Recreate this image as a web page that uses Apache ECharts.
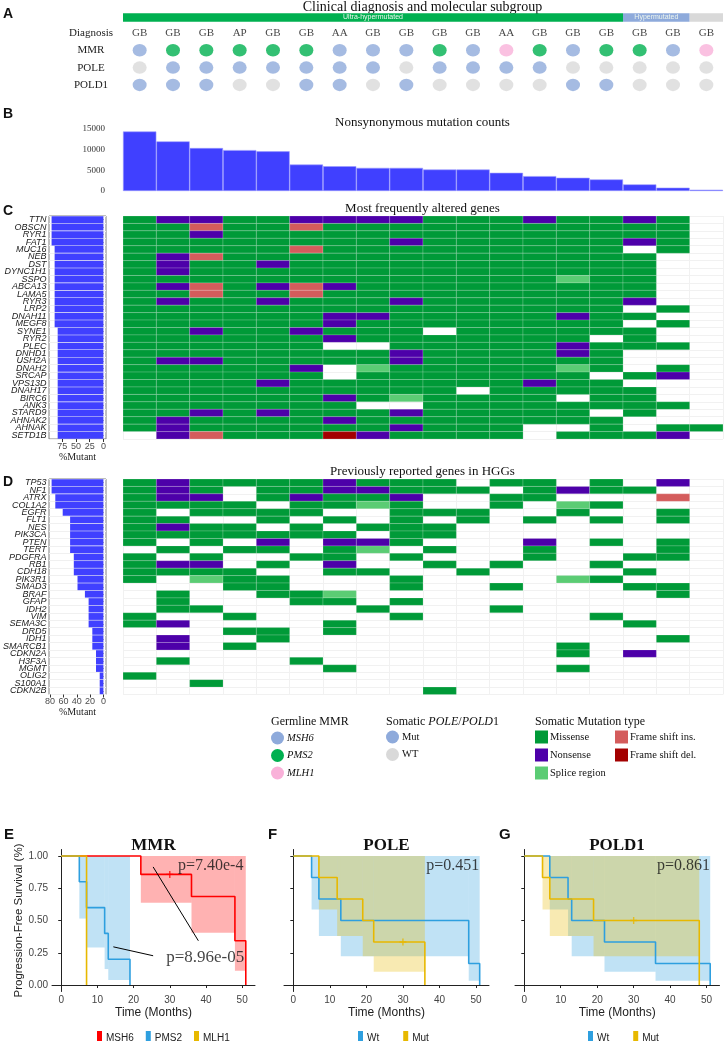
<!DOCTYPE html>
<html>
<head>
<meta charset="utf-8">
<script src="https://cdn.jsdelivr.net/npm/echarts@6/dist/echarts.min.js"></script>
<style>
  html, body { margin: 0; padding: 0; background: #fff; }
  #main { width: 727px; height: 1041px; }
</style>
</head>
<body>
<div id="main"></div>
<script>
// ---- panel A / B data ----
var samples = ['P1','P2','P3','P4','P5','P6','P7','P8','P9','P10','P11','P12','P13','P14','P15','P16','P17','P18'];
var diagnosis = ['GB','GB','GB','AP','GB','GB','AA','GB','GB','GB','GB','AA','GB','GB','GB','GB','GB','GB'];
var mmrGene = ['MSH6','PMS2','PMS2','PMS2','PMS2','PMS2','MSH6','MSH6','MSH6','PMS2','MSH6','MLH1','PMS2','MSH6','PMS2','PMS2','MSH6','MLH1'];
var poleStatus = ['WT','Mut','Mut','Mut','Mut','Mut','Mut','Mut','WT','Mut','Mut','Mut','Mut','WT','WT','WT','WT','WT'];
var pold1Status = ['Mut','Mut','Mut','WT','WT','Mut','Mut','WT','Mut','WT','WT','WT','WT','Mut','Mut','WT','WT','WT'];
var subgroups = ['Ultra-hypermutated', 'Hypermutated', ''];
var subgroupSpan = [15, 2, 1];
var mutationCounts = [14400, 12000, 10400, 9900, 9600, 6400, 6000, 5600, 5600, 5200, 5200, 4400, 3600, 3200, 2800, 1600, 800, 300];

// ---- panel C data (M missense, N nonsense, S splice, I fs ins, D fs del, . none) ----
var genesC = ['TTN','OBSCN','RYR1','FAT1','MUC16','NEB','DST','DYNC1H1','SSPO','ABCA13','LAMA5','RYR3','LRP2','DNAH11','MEGF8',
  'SYNE1','RYR2','PLEC','DNHD1','USH2A','DNAH2','SRCAP','VPS13D','DNAH17','BIRC6','ANK3','STARD9','AHNAK2','AHNAK','SETD1B'];
var mutantCountC = [17,17,17,17,16,16,16,16,16,16,16,16,16,16,16,15,15,15,15,15,15,15,15,15,15,15,15,15,15,15];
var heatC = [
  'MNNMMNNNNMMMNMMNM.',
  'MMIMMIMMMMMMMMMMM.',
  'MMNMMMMMMMMMMMMMM.',
  'MMMMMMMMNMMMMMMNM.',
  'MMMMMIMMMMMMMMM.M.',
  'MNIMMMMMMMMMMMMM..',
  'MNMMNMMMMMMMMMMM..',
  'MNMMMMMMMMMMMMMM..',
  'MMMMMMMMMMMMMSMM..',
  'MNIMNINMMMMMMMMM..',
  'MMIMMIMMMMMMMMMM..',
  'MNMMNMMMNMMMMMMN..',
  'MMMMMMMMMMMMMMM.M.',
  'MMMMMMNNMMMMMNMM..',
  'MMMMMMNMMMMMMMM.M.',
  'MMNMMNMMM.MMMMMM..',
  'MMMMMMNMMMMMMM.M..',
  'MMMMMM..MMMMMNMMM.',
  'MMMMMMMMNMMMMNM...',
  'MNNMMMMMNMMMMMM...',
  'MMMMMN.SMMMMMSM.M.',
  'MMMMMM.MMMMMMM.MN.',
  'MMMMNMMMMMMMNMM...',
  'MMMMMMMMMM.MMMMM..',
  'MMMMMMNMSMMMM.MM..',
  'MMMMMMM..MMMMMMMM.',
  'MMNMNMMMNMMMMM.M..',
  'MNMMMMNMMMMMMMM...',
  'MNMMMMMMNMMM..M.MM',
  '.NIMMMDNMMMM.MMMN.'
];

// ---- panel D data ----
var genesD = ['TP53','NF1','ATRX','COL1A2','EGFR','FLT1','NES','PIK3CA','PTEN','TERT','PDGFRA','RB1','CDH18','PIK3R1','SMAD3',
  'BRAF','GFAP','IDH2','VIM','SEMA3C','DRD5','IDH1','SMARCB1','CDKN2A','H3F3A','MGMT','OLIG2','S100A1','CDKN2B'];
var mutantCountD = [14,14,13,13,11,9,9,9,9,9,8,8,8,7,7,5,4,4,4,4,3,3,3,2,2,2,1,1,1];
var heatD = [
  'MNMMMMNMMM.MM.M.N.',
  'MNM.MMNNMMM.MNMM..',
  'MNN.MNMMN..MM...I.',
  'MMMM.MMSM..M.SM...',
  'M.MMMM..MMM..M..M.',
  'MM..M.M.M.M.M.M.M.',
  'MNMM.M.MMM........',
  'MMMMMMM.MM........',
  'M.M.N.NNM...N.M.M.',
  '.M.MM.MS.M..M...M.',
  'M.M..MM.M...M..MM.',
  'MNN.M.N..M.M..M...',
  'MMMM..MM..M....M..',
  'M.SMM...M....SM...',
  '...MM...M..M...MM.',
  '.M..MMS.........M.',
  '.M...MM.M.........',
  '.MM....M...M......',
  'M..M....M.....M...',
  'MN....M........M..',
  '...MM.M...........',
  '.N..M...........M.',
  '.N.M.........M....',
  '.............M.N..',
  '.M...M............',
  '......M......M....',
  'M.................',
  '..M...............',
  '.........M........'
];
var mutCodes = ['M', 'N', 'S', 'I', 'D'];
var mutTypes = ['Missense', 'Nonsense', 'Splice region', 'Frame shift ins.', 'Frame shift del.'];

// ---- survival data: step points, censor marks, CI bands [t0, t1, lower, upper] ----
var msh6Curve = [[0,1],[22,0.857],[36,0.686],[48,0.343],[51,0]];
var pms2Curve = [[0,1],[5,0.8],[7,0.6],[12,0.4],[13,0.2],[19,0]];
var mlh1Curve = [[0,1],[7,0]];
var msh6Censor = [[30,0.857]];
var msh6CI = [[22,36,0.637,1],[36,48,0.405,1],[48,51,0.111,1]];
var pms2CI = [[5,7,0.515,1],[7,12,0.29,1],[12,13,0.124,1],[13,19,0.04,1]];

var poleWtCurve = [[0,1],[5,0.833],[7,0.667],[13,0.5],[48,0.167],[51,0]];
var poleMutCurve = [[0,1],[7,0.833],[12,0.667],[19,0.5],[22,0.333],[36,0]];
var poleMutCensor = [[30,0.333]];
var poleWtCI = [[5,7,0.585,1],[7,13,0.38,1],[13,48,0.224,1],[48,51,0.033,1]];
var poleMutCI = [[7,12,0.585,1],[12,19,0.38,1],[19,22,0.224,1],[22,36,0.103,1]];

var pold1WtCurve = [[0,1],[7,0.833],[12,0.667],[13,0.5],[22,0.333],[36,0.167],[51,0]];
var pold1MutCurve = [[0,1],[5,0.833],[7,0.667],[19,0.5],[48,0]];
var pold1MutCensor = [[30,0.5]];
var pold1WtCI = [[7,12,0.585,1],[12,13,0.38,1],[13,22,0.224,1],[22,36,0.103,1],[36,51,0.033,1]];
var pold1MutCI = [[5,7,0.585,1],[7,19,0.38,1],[19,48,0.224,1]];

// ---- styles ----
var serif = '"Liberation Serif", "Times New Roman", serif';
var sans = '"Liberation Sans", Arial, sans-serif';
var mmrColors = { MSH6: '#8eaadb', PMS2: '#00b050', MLH1: '#f9b1d9' };
var statusColors = { Mut: '#8eaadb', WT: '#d9d9d9' };
var subgroupColors = ['#00b050', '#8eaadb', '#d9d9d9'];
var mutColors = ['#009a38', '#4d00a9', '#5bcc74', '#d45c5c', '#a30000'];
var barBlue = '#4040ff';
var red = '#ff0000', blue = '#2e9fdf', gold = '#e7b800';
var plusPath = 'path://M4,0h2v4h4v2h-4v4h-2v-4h-4v-2h4z';

var chart = echarts.init(document.getElementById('main'));

var grids = [
  { left: 123, top: 24.3, width: 600, height: 69.3 },          // 0 A
  { left: 123, top: 13.3, width: 600, height: 8.4 },           // 1 subgroup strip
  { left: 123, top: 129, width: 600, height: 62 },             // 2 B
  { left: 49, top: 216, width: 57, height: 223, show: true, borderColor: '#7f7f7f', borderWidth: 1 }, // 3 C bars
  { left: 123, top: 216, width: 600, height: 223 },            // 4 C heat
  { left: 49, top: 479, width: 57, height: 215.5, show: true, borderColor: '#7f7f7f', borderWidth: 1 }, // 5 D bars
  { left: 123, top: 479, width: 600, height: 215.5 },          // 6 D heat
  { left: 52, top: 849.5, width: 203, height: 142 },           // 7 E
  { left: 284, top: 849.5, width: 205, height: 142 },          // 8 F
  { left: 515, top: 849.5, width: 204.5, height: 142 }         // 9 G
];

var hiddenCat = function (g, data, inverse) {
  return { gridIndex: g, type: 'category', data: data, inverse: !!inverse,
    axisLine: { show: false }, axisTick: { show: false }, axisLabel: { show: false }, splitLine: { show: false } };
};
var heatCat = function (g, data, inverse) {
  return { gridIndex: g, type: 'category', data: data, inverse: !!inverse,
    axisLine: { show: false }, axisTick: { show: false }, axisLabel: { show: false },
    splitLine: { show: true, interval: 0, lineStyle: { color: '#f1f1f1', width: 1 } } };
};
var pctAxis = function (g, max, ticks) {
  return { gridIndex: g, type: 'value', inverse: true, min: -max * 0.05, max: max * 1.05,
    axisLine: { show: false },
    axisTick: { show: true, customValues: ticks, length: 3, lineStyle: { color: '#333' } },
    axisLabel: { customValues: ticks, fontSize: 9, fontFamily: sans, color: '#4d4d4d', margin: 3 },
    splitLine: { show: false },
    name: '%Mutant', nameLocation: 'middle', nameGap: 13,
    nameTextStyle: { fontFamily: serif, fontSize: 10, color: '#222' } };
};
var geneAxis = function (g, genes) {
  return { gridIndex: g, type: 'category', data: genes, inverse: true,
    axisLine: { show: false },
    axisTick: { show: true, length: 2.5, alignWithLabel: true, lineStyle: { color: '#333' } },
    axisLabel: { interval: 0, fontSize: 9, fontStyle: 'italic', fontFamily: sans, color: '#1a1a1a', margin: 2.5 },
    splitLine: { show: true, interval: 0, lineStyle: { color: '#f0f0f0' } } };
};
var survX = function (g) {
  return { gridIndex: g, type: 'value', min: -2.55, max: 53.55,
    axisLine: { show: true, lineStyle: { color: '#222', width: 1 } },
    axisTick: { show: true, customValues: [0, 10, 20, 30, 40, 50], length: 3, lineStyle: { color: '#222' } },
    axisLabel: { customValues: [0, 10, 20, 30, 40, 50], fontSize: 10, fontFamily: sans, color: '#444', margin: 4 },
    splitLine: { show: false },
    name: 'Time (Months)', nameLocation: 'middle', nameGap: 15,
    nameTextStyle: { fontSize: 12, fontFamily: sans, color: '#222' } };
};
var survY = function (g, showLabels) {
  var ax = { gridIndex: g, type: 'value', min: -0.05, max: 1.05,
    axisLine: { show: true, lineStyle: { color: '#222', width: 1 } },
    axisTick: { show: true, customValues: [0, 0.25, 0.5, 0.75, 1], length: 3, lineStyle: { color: '#222' } },
    axisLabel: { show: showLabels, customValues: [0, 0.25, 0.5, 0.75, 1], fontSize: 10, fontFamily: sans, color: '#444', margin: 4,
      formatter: function (v) { return v.toFixed(2); } },
    splitLine: { show: false } };
  if (showLabels) {
    ax.name = 'Progression-Free Survival (%)';
    ax.nameLocation = 'middle';
    ax.nameGap = 27;
    ax.nameTextStyle = { fontSize: 11.5, fontFamily: sans, color: '#222' };
  }
  return ax;
};

var xAxes = [
  hiddenCat(0, samples),
  { gridIndex: 1, type: 'value', min: 0, max: 18, show: false },
  hiddenCat(2, samples),
  pctAxis(3, 94.44, [0, 25, 50, 75]),
  heatCat(4, samples),
  pctAxis(5, 77.78, [0, 20, 40, 60, 80]),
  heatCat(6, samples),
  survX(7), survX(8), survX(9)
];
var yAxes = [
  { gridIndex: 0, type: 'category', data: ['POLD1', 'POLE', 'MMR', 'Diagnosis'],
    axisLine: { show: false }, axisTick: { show: false },
    axisLabel: { fontFamily: serif, fontSize: 11, color: '#222', align: 'center', margin: 32 } },
  { gridIndex: 1, type: 'category', data: ['subgroup'], show: false },
  { gridIndex: 2, type: 'value', min: 0, max: 15000, interval: 5000,
    axisLine: { show: false }, axisTick: { show: false }, splitLine: { show: false },
    axisLabel: { fontFamily: serif, fontSize: 9, color: '#333', margin: 18,
      formatter: function (v) { return String(v); } } },
  geneAxis(3, genesC),
  heatCat(4, genesC, true),
  geneAxis(5, genesD),
  heatCat(6, genesD, true),
  survY(7, true), survY(8, false), survY(9, false)
];

var series = [];

// panel A
series.push({
  type: 'scatter', xAxisIndex: 0, yAxisIndex: 0, symbolSize: 1, silent: true,
  itemStyle: { color: 'rgba(0,0,0,0)' },
  label: { show: true, position: 'inside', fontFamily: serif, fontSize: 11, color: '#111',
    formatter: function (p) { return diagnosis[p.dataIndex]; } },
  data: samples.map(function (s) { return [s, 'Diagnosis']; })
});
var dotRow = function (row, values, colors) {
  return {
    type: 'scatter', xAxisIndex: 0, yAxisIndex: 0, symbolSize: [14, 12.5], silent: true,
    data: values.map(function (v, i) { return { value: [samples[i], row], itemStyle: { color: colors[v] } }; })
  };
};
series.push(dotRow('MMR', mmrGene, mmrColors));
series.push(dotRow('POLE', poleStatus, statusColors));
series.push(dotRow('POLD1', pold1Status, statusColors));

// subgroup strip
subgroups.forEach(function (name, i) {
  series.push({
    type: 'bar', name: name, xAxisIndex: 1, yAxisIndex: 1, stack: 'sg', barWidth: '100%', silent: true,
    itemStyle: { color: subgroupColors[i] },
    label: { show: name !== '', position: 'inside', fontSize: 7, fontFamily: sans, color: '#eef6ee',
      formatter: function () { return name; } },
    data: [subgroupSpan[i]]
  });
});

// panel B
series.push({
  type: 'bar', xAxisIndex: 2, yAxisIndex: 2, barCategoryGap: '0%', silent: true,
  itemStyle: { color: barBlue, borderColor: '#9a9aff', borderWidth: 0.6 },
  data: mutationCounts
});

// left %mutant bars
var pctBars = function (xi, counts) {
  return {
    type: 'bar', xAxisIndex: xi, yAxisIndex: xi, barCategoryGap: '8%', silent: true,
    itemStyle: { color: barBlue },
    data: counts.map(function (c) { return c / 18 * 100; })
  };
};
series.push(pctBars(3, mutantCountC));
series.push(pctBars(5, mutantCountD));

// heatmaps
var heatData = function (rows) {
  var out = [];
  rows.forEach(function (row, gi) {
    for (var c = 0; c < row.length; c++) {
      var k = mutCodes.indexOf(row.charAt(c));
      if (k >= 0) out.push([c, gi, k]);
    }
  });
  return out;
};
var heatItem = function (params, api) {
  var p = api.coord([api.value(0), api.value(1)]);
  var s = api.size([1, 1]);
  return {
    type: 'rect',
    shape: { x: p[0] - s[0] / 2, y: p[1] - s[1] / 2, width: s[0], height: s[1] },
    style: { fill: mutColors[api.value(2)], stroke: 'rgba(255,255,255,0.3)', lineWidth: 0.6 }
  };
};
series.push({ type: 'custom', xAxisIndex: 4, yAxisIndex: 4, renderItem: heatItem, data: heatData(heatC), silent: true });
series.push({ type: 'custom', xAxisIndex: 6, yAxisIndex: 6, renderItem: heatItem, data: heatData(heatD), silent: true });

// survival panels
var ciSeries = function (ai, data, color) {
  return {
    type: 'custom', xAxisIndex: ai, yAxisIndex: ai, silent: true, z: 1,
    renderItem: function (params, api) {
      var a = api.coord([api.value(0), api.value(3)]);
      var b = api.coord([api.value(1), api.value(2)]);
      return { type: 'rect', shape: { x: a[0], y: a[1], width: b[0] - a[0], height: b[1] - a[1] },
        style: { fill: color, opacity: 0.3 } };
    },
    data: data
  };
};
var kmSeries = function (ai, name, data, color) {
  return {
    type: 'line', name: name, xAxisIndex: ai, yAxisIndex: ai, step: 'end', showSymbol: false, silent: true, z: 3,
    color: color, lineStyle: { color: color, width: 1.6 }, data: data
  };
};
var censorSeries = function (ai, data, color) {
  return { type: 'scatter', xAxisIndex: ai, yAxisIndex: ai, symbol: plusPath, symbolSize: 7, silent: true, z: 4,
    itemStyle: { color: color }, data: data };
};
var pText = function (ai, pos, text, size) {
  return { type: 'scatter', xAxisIndex: ai, yAxisIndex: ai, symbolSize: 1, silent: true, z: 5,
    itemStyle: { color: 'rgba(0,0,0,0)' },
    label: { show: true, position: 'inside', fontFamily: serif, fontSize: size, color: '#111',
      formatter: function () { return text; } },
    data: [pos] };
};
var pointer = function (ai, data) {
  return { type: 'line', xAxisIndex: ai, yAxisIndex: ai, showSymbol: false, silent: true, z: 5,
    lineStyle: { color: '#000', width: 1 }, data: data };
};

series.push(ciSeries(7, msh6CI, red));
series.push(ciSeries(7, pms2CI, blue));
series.push(kmSeries(7, 'MSH6', msh6Curve, red));
series.push(kmSeries(7, 'PMS2', pms2Curve, blue));
series.push(kmSeries(7, 'MLH1', mlh1Curve, gold));
series.push(censorSeries(7, msh6Censor, red));
series.push(pointer(7, [[25.4, 0.915], [37.9, 0.343]]));
series.push(pointer(7, [[14.4, 0.296], [25.4, 0.227]]));
series.push(pText(7, [41.3, 0.925], 'p=7.40e-4', 16));
series.push(pText(7, [39.8, 0.21], 'p=8.96e-05', 17));

series.push(ciSeries(8, poleWtCI, blue));
series.push(ciSeries(8, poleMutCI, gold));
series.push(kmSeries(8, 'Wt', poleWtCurve, blue));
series.push(kmSeries(8, 'Mut', poleMutCurve, gold));
series.push(censorSeries(8, poleMutCensor, gold));
series.push(pText(8, [43.6, 0.92], 'p=0.451', 16));

series.push(ciSeries(9, pold1WtCI, blue));
series.push(ciSeries(9, pold1MutCI, gold));
series.push(kmSeries(9, 'Wt', pold1WtCurve, blue));
series.push(kmSeries(9, 'Mut', pold1MutCurve, gold));
series.push(censorSeries(9, pold1MutCensor, gold));
series.push(pText(9, [43.7, 0.92], 'p=0.861', 16));

// ---- text, panel letters, legends ----
var txt = function (x, y, text, opt) {
  opt = opt || {};
  return { type: 'text', x: x, y: y, silent: true,
    style: { text: text, fill: opt.color || '#111', fontSize: opt.size || 12, fontFamily: opt.family || serif,
      fontWeight: opt.weight || 'normal', fontStyle: opt.style || 'normal',
      textAlign: opt.align || 'left', align: opt.align || 'left',
      textVerticalAlign: 'middle', verticalAlign: 'middle', rich: opt.rich } };
};
var graphics = [
  txt(3, 14, 'A', { family: sans, weight: 'bold', size: 14 }),
  txt(3, 114, 'B', { family: sans, weight: 'bold', size: 14 }),
  txt(3, 211, 'C', { family: sans, weight: 'bold', size: 14 }),
  txt(3, 482, 'D', { family: sans, weight: 'bold', size: 14 }),
  txt(4, 835, 'E', { family: sans, weight: 'bold', size: 15 }),
  txt(268, 835, 'F', { family: sans, weight: 'bold', size: 15 }),
  txt(499, 835, 'G', { family: sans, weight: 'bold', size: 15 }),
  txt(422.5, 7, 'Clinical diagnosis and molecular subgroup', { align: 'center', size: 14 }),
  txt(422.5, 123, 'Nonsynonymous mutation counts', { align: 'center', size: 13 }),
  txt(422.5, 209, 'Most frequently altered genes', { align: 'center', size: 13 }),
  txt(422.5, 472, 'Previously reported genes in HGGs', { align: 'center', size: 13 }),
  txt(153.5, 846, 'MMR', { align: 'center', size: 17, weight: 'bold' }),
  txt(386.5, 846, 'POLE', { align: 'center', size: 17, weight: 'bold' }),
  txt(617, 846, 'POLD1', { align: 'center', size: 17, weight: 'bold' }),
  // germline MMR legend
  txt(271, 722, 'Germline MMR', { size: 12 }),
  txt(386, 722, 'Somatic {i|POLE}/{i|POLD}1', { size: 12, rich: { i: { fontStyle: 'italic', fontFamily: serif, fontSize: 12 } } }),
  txt(535, 722, 'Somatic Mutation type', { size: 12 })
];
['MSH6', 'PMS2', 'MLH1'].forEach(function (g, i) {
  var y = 738 + i * 17.5;
  graphics.push({ type: 'circle', shape: { cx: 277.5, cy: y, r: 6.5 }, style: { fill: mmrColors[g] }, silent: true });
  graphics.push(txt(287, y, g, { size: 10.5, style: 'italic' }));
});
['Mut', 'WT'].forEach(function (g, i) {
  var y = 737 + i * 17.5;
  graphics.push({ type: 'circle', shape: { cx: 392.5, cy: y, r: 6.5 }, style: { fill: statusColors[g] }, silent: true });
  graphics.push(txt(402, y, g, { size: 10.5 }));
});
mutTypes.forEach(function (m, i) {
  var col = i < 3 ? 0 : 1, row = i < 3 ? i : i - 3;
  var x = col === 0 ? 535 : 615, y = 730.5 + row * 18;
  graphics.push({ type: 'rect', shape: { x: x, y: y, width: 13, height: 13 }, style: { fill: mutColors[i] }, silent: true });
  graphics.push(txt(x + 15, y + 6.5, m, { size: 10.5 }));
});

var legendBase = { icon: 'rect', itemWidth: 5, itemHeight: 14, top: 1026, selectedMode: false,
  textStyle: { fontSize: 10, fontFamily: sans, color: '#222', padding: [0, 0, 0, -1] } };
var legends = [
  Object.assign({}, legendBase, { data: ['MSH6', 'PMS2', 'MLH1'], left: 92, itemGap: 12 }),
  Object.assign({}, legendBase, { data: ['Wt', 'Mut'], left: 353, itemGap: 24 }),
  Object.assign({}, legendBase, { data: ['Wt', 'Mut'], left: 583, itemGap: 24 })
];

chart.setOption({
  animation: false,
  backgroundColor: '#fff',
  grid: grids,
  xAxis: xAxes,
  yAxis: yAxes,
  legend: legends,
  series: series,
  graphic: graphics
});
</script>
</body>
</html>
